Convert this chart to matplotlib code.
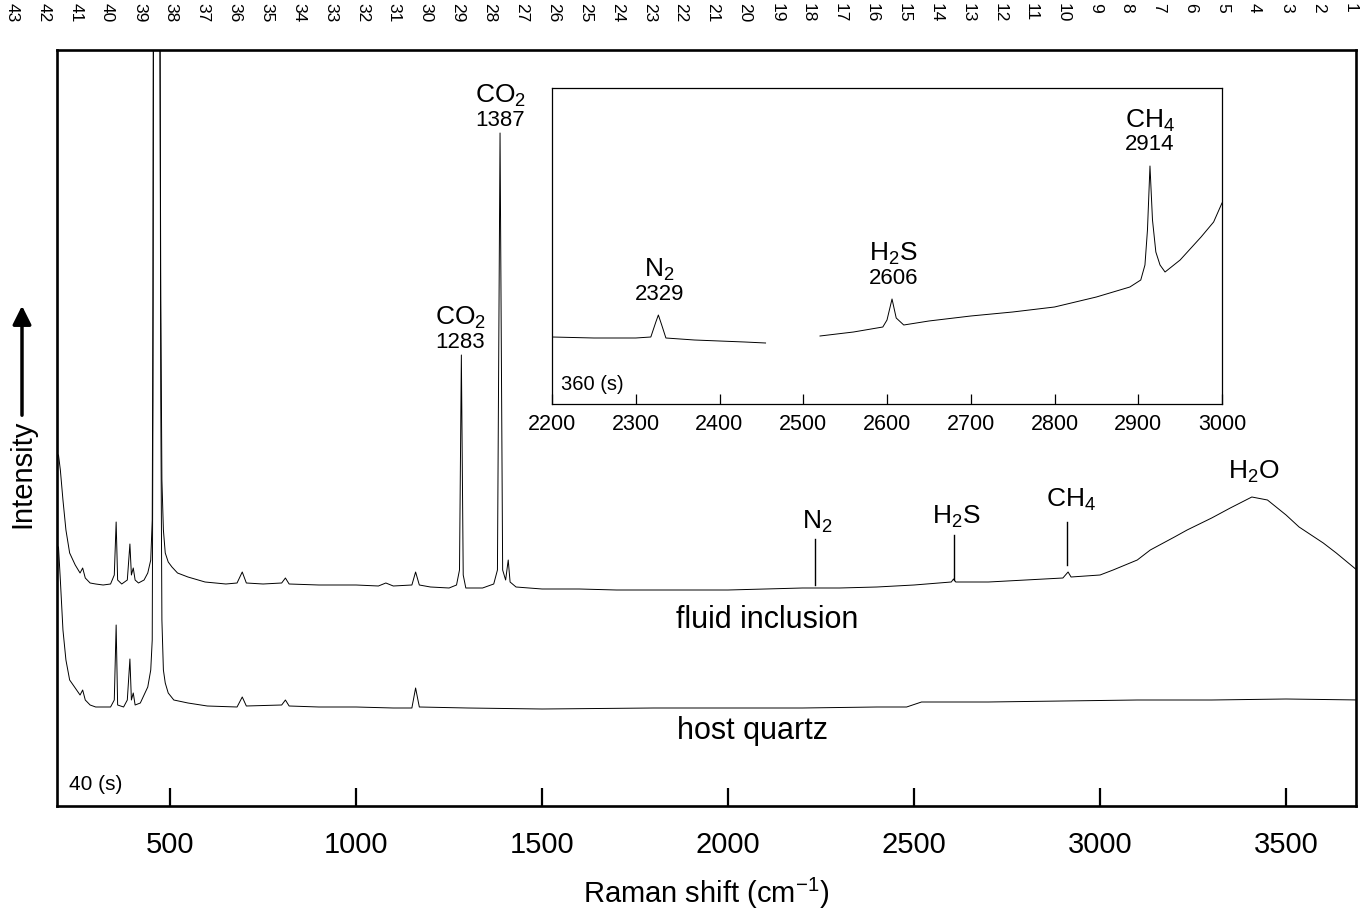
import matplotlib
matplotlib.use("Agg")
import matplotlib.pyplot as plt
import numpy as np

plt.rcParams['font.family'] = ['Liberation Sans', 'DejaVu Sans']
plt.rcParams['mathtext.fontset'] = 'custom'
plt.rcParams['mathtext.rm'] = 'Liberation Sans'
plt.rcParams['mathtext.it'] = 'Liberation Sans:italic'
plt.rcParams['mathtext.bf'] = 'Liberation Sans:bold'

# --- main spectra (Raman shift in cm-1, intensity in arbitrary units) ---
fluid_shift = [200, 205, 212, 220, 230, 245, 258, 265, 272, 285, 300, 320, 340, 350, 355, 359,
               370, 385, 392, 396, 401, 406, 415, 430, 440, 448, 452, 454, 455, 464, 473, 475,
               478, 482, 487, 495, 505, 520, 548, 594, 650, 680, 694, 705, 750, 800, 810, 820,
               900, 1000, 1060, 1080, 1100, 1150, 1160, 1170, 1200, 1250, 1270, 1278, 1283, 1288,
               1295, 1340, 1370, 1380, 1387, 1394, 1402, 1409, 1414, 1430, 1500, 1600, 1700, 1800,
               1900, 2000, 2100, 2200, 2300, 2400, 2500, 2600, 2606, 2612, 2700, 2800, 2900, 2914,
               2922, 3000, 3035, 3100, 3135, 3200, 3234, 3300, 3350, 3408, 3450, 3500, 3535, 3600,
               3635, 3700]
fluid_int = [351, 336, 306, 276, 253, 241, 233, 238, 228, 223, 222, 221, 222, 231, 284, 226,
             222, 226, 262, 231, 238, 226, 223, 226, 233, 246, 286, 506, 756, 1400, 756, 506,
             326, 276, 253, 244, 239, 233, 229, 224, 222, 223, 234, 223, 222, 223, 228, 222,
             221, 221, 220, 223, 220, 221, 234, 221, 219, 218, 221, 236, 451, 231,
             218, 218, 222, 236, 673, 236, 226, 246, 224, 219, 217, 217, 216, 216,
             216, 216, 217, 218, 218, 219, 221, 224, 227, 224, 224, 226, 228, 234,
             229, 231, 236, 246, 256, 269, 276, 288, 298, 309, 306, 291, 279, 263,
             253, 233]

quartz_shift = [200, 205, 212, 220, 230, 245, 258, 265, 272, 285, 300, 340, 350, 355, 359, 375,
                385, 392, 396, 401, 406, 420, 440, 448, 452, 454, 455, 464, 473, 475, 478, 482,
                487, 495, 510, 548, 600, 680, 694, 705, 800, 810, 820, 900, 1000, 1100, 1150,
                1160, 1170, 1300, 1500, 1800, 2000, 2200, 2400, 2480, 2520, 2700, 2900, 3100,
                3300, 3500, 3700]
quartz_int = [259, 226, 176, 146, 126, 118, 111, 116, 106, 101, 99, 99, 106, 181, 101, 99,
              106, 147, 106, 113, 101, 103, 119, 136, 166, 406, 756, 1400, 756, 406, 186, 136,
              123, 113, 106, 103, 100, 99, 109, 100, 101, 106, 100, 99, 99, 98, 98,
              118, 99, 98, 97, 98, 98, 98, 99, 99, 104, 104, 105, 106,
              106, 107, 106]

# --- inset: fluid inclusion, 360 s acquisition ---
inset_shift_a = [2200, 2250, 2300, 2318, 2324, 2327, 2331, 2336, 2370, 2400, 2430, 2455]
inset_int_a = [67, 66, 66, 67, 82, 89, 79, 66, 64, 63, 62, 61]
inset_shift_b = [2520, 2560, 2595, 2600, 2606, 2611, 2620, 2650, 2700, 2750, 2800, 2850, 2890,
                 2903, 2908, 2911, 2914, 2917, 2921, 2926, 2932, 2950, 2975, 2990, 3000]
inset_int_b = [68, 72, 77, 84, 105, 86, 79, 83, 88, 92, 97, 107, 117,
               124, 139, 174, 238, 184, 152, 139, 132, 144, 167, 182, 201]

# peak labels
main_marks = [("N$_2$", 2235, 2239), ("H$_2$S", 2607, 2613), ("CH$_4$", 2911, 2922)]
mark_tops = [267, 271, 284]
mark_bottoms = [221, 226, 241]
label_y = [284, 289, 306]

fig = plt.figure(figsize=(13.61, 9.19), dpi=100)
ax = fig.add_axes([57 / 1361, 113 / 919, 1299 / 1361, 756 / 919])
ax.plot(fluid_shift, fluid_int, color='black', lw=0.7)
ax.plot(quartz_shift, quartz_int, color='black', lw=0.7)
ax.set_xlim(196, 3688)
ax.set_ylim(0, 756)
ax.set_yticks([])
ax.set_xticks([500, 1000, 1500, 2000, 2500, 3000, 3500])
ax.tick_params(axis='x', direction='in', length=13, width=1.6, pad=18, labelsize=21)
for s in ax.spines.values():
    s.set_linewidth(1.9)
ax.set_xlabel("Raman shift (cm$^{-1}$)", fontsize=21, labelpad=12)

ax.text(1280, 488, "CO$_2$", ha='center', va='center', fontsize=19)
ax.text(1280, 464, "1283", ha='center', va='center', fontsize=16)
ax.text(1387, 710, "CO$_2$", ha='center', va='center', fontsize=19)
ax.text(1387, 686, "1387", ha='center', va='center', fontsize=16)
for (lab, xl, xt), yt, yb, ly in zip(main_marks, mark_tops, mark_bottoms, label_y):
    ax.plot([xl, xl], [yb, yt], color='black', lw=1.0)
    ax.text(xt, ly, lab, ha='center', va='center', fontsize=19)
ax.text(3414, 334, "H$_2$O", ha='center', va='center', fontsize=19)
ax.text(2105, 186, "fluid inclusion", ha='center', va='center', fontsize=22)
ax.text(2065, 75, "host quartz", ha='center', va='center', fontsize=22)
ax.text(228, 22, "40 (s)", ha='left', va='center', fontsize=15)

# inset
ins = fig.add_axes([552 / 1361, 515 / 919, 670 / 1361, 316 / 919])
ins.plot(inset_shift_a, inset_int_a, color='black', lw=0.7)
ins.plot(inset_shift_b, inset_int_b, color='black', lw=0.7)
ins.set_xlim(2200, 3000)
ins.set_ylim(0, 316)
ins.set_yticks([])
ins.set_xticks(np.arange(2200, 3001, 100))
ins.tick_params(axis='x', direction='in', length=7, width=0.9, pad=7, labelsize=15.5)
for s in ins.spines.values():
    s.set_linewidth(0.9)
ins.text(2328, 134, "N$_2$", ha='center', va='center', fontsize=19)
ins.text(2328, 110, "2329", ha='center', va='center', fontsize=16)
ins.text(2608, 150, "H$_2$S", ha='center', va='center', fontsize=19)
ins.text(2608, 126, "2606", ha='center', va='center', fontsize=16)
ins.text(2914, 283, "CH$_4$", ha='center', va='center', fontsize=19)
ins.text(2914, 259, "2914", ha='center', va='center', fontsize=16)
ins.text(2211, 19, "360 (s)", ha='left', va='center', fontsize=14.5)

# y label with arrow
fig.text(22 / 1361, 1 - 474 / 919, "Intensity", rotation=90, ha='center', va='center', fontsize=21)
fig.add_artist(matplotlib.patches.FancyArrowPatch(
    (22 / 1361, 1 - 418 / 919), (22 / 1361, 1 - 303 / 919), transform=fig.transFigure,
    arrowstyle='-|>', mutation_scale=28, lw=2.5, color='black'))

# page line numbers along the top
for n in range(43, 0, -1):
    fig.text((12 + (43 - n) * 31.86) / 1361, 1 - 3 / 919, str(n), rotation=-90,
             ha='center', va='top', fontsize=12.5)

fig.savefig("out.png", dpi=100)
